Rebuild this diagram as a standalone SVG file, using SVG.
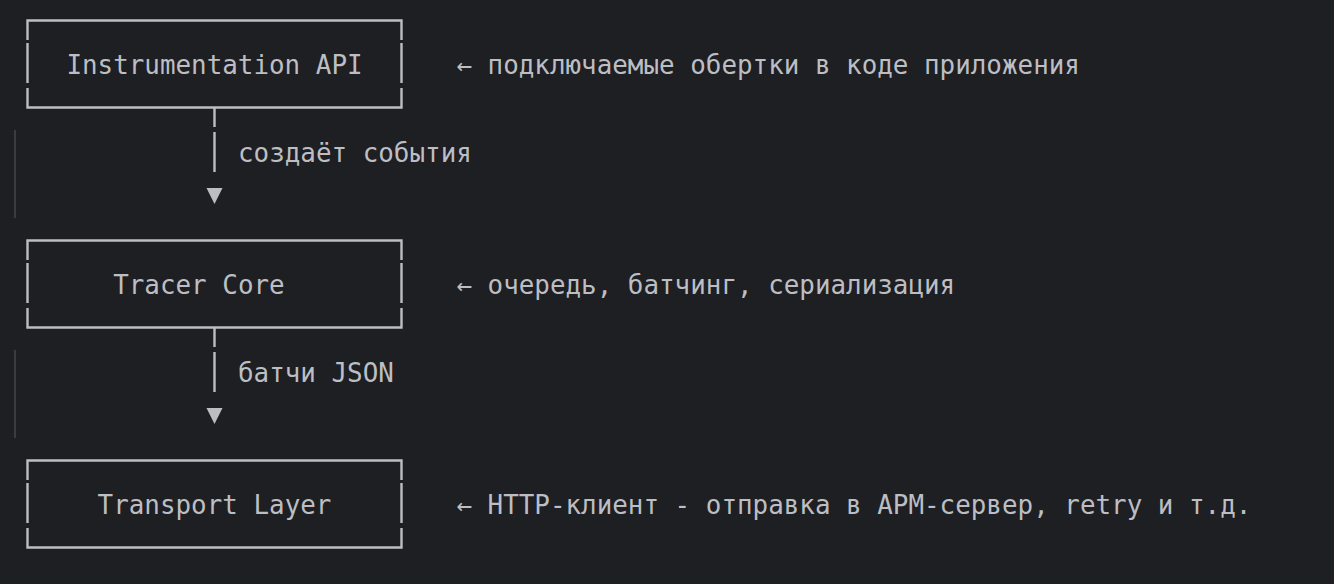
<svg xmlns="http://www.w3.org/2000/svg" xmlns:xlink="http://www.w3.org/1999/xlink" width="1334" height="584" viewBox="0 0 1334 584">
  <style>
    .bg { fill: #1e1f22; }
    .frame { fill: none; stroke: #bcbec4; stroke-width: 2.4; stroke-linejoin: miter; }
    .conn { fill: none; stroke: #bcbec4; stroke-width: 2.4; }
    .head { fill: #bcbec4; }
    .guide { stroke: #3b3c40; stroke-width: 2; }
    .t { font-family: "DejaVu Sans Mono", "Liberation Mono", monospace; font-size: 25.9px; fill: #bcbec4; }
  </style>
  <defs>
    <path id="frame" class="frame" d="M27.5 40 V20.5 H401.5 V40 M27.5 43 V83 M401.5 43 V83 M27.5 88 V107.5 H401.5 V88"/>
  </defs>
  <rect class="bg" x="0" y="0" width="1334" height="584"/>

  <g id="node-instrumentation">
    <use xlink:href="#frame" href="#frame"/>
    <text class="t" x="66.4" y="73.5">Instrumentation API</text>
    <text class="t" x="456.4" y="73.5">← подключаемые обертки в коде приложения</text>
  </g>

  <g id="node-tracer-core" transform="translate(0,220)">
    <use xlink:href="#frame" href="#frame"/>
    <text class="t" x="113.2" y="73.5">Tracer Core</text>
    <text class="t" x="456.4" y="73.5">← очередь, батчинг, сериализация</text>
  </g>

  <g id="node-transport">
    <g transform="translate(0,440)">
      <use xlink:href="#frame" href="#frame"/>
      <text class="t" x="97.6" y="73.5">Transport Layer</text>
      <text class="t" x="456.4" y="73.5">← HTTP-клиент - отправка в APM-сервер, retry и т.д.</text>
    </g>
  </g>

  <g id="connectors">
    <g id="conn-1">
      <line class="guide" x1="15" y1="130" x2="15" y2="218"/>
      <path class="conn" d="M214.5 108 V127 M214.5 132 V172"/>
      <polygon class="head" points="206.5,188 222.5,188 214.5,204"/>
      <text class="t" x="238" y="161.5">создаёт события</text>
    </g>
    <g id="conn-2" transform="translate(0,220)">
      <line class="guide" x1="15" y1="130" x2="15" y2="218"/>
      <path class="conn" d="M214.5 108 V127 M214.5 132 V172"/>
      <polygon class="head" points="206.5,188 222.5,188 214.5,204"/>
      <text class="t" x="238" y="161.5">батчи JSON</text>
    </g>
  </g>
</svg>
